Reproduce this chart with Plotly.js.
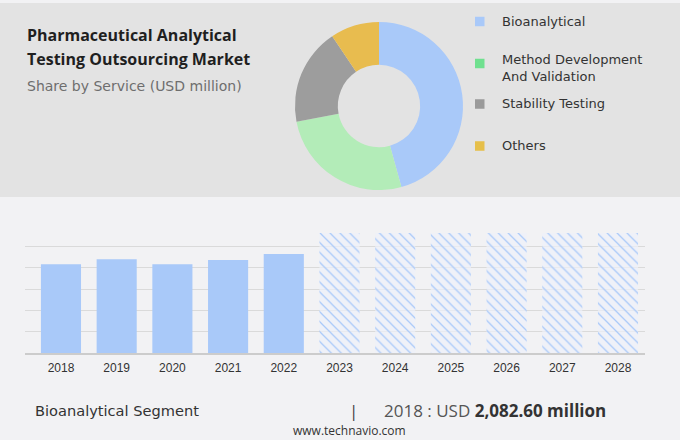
<!DOCTYPE html>
<html>
<head>
<meta charset="utf-8">
<script src="https://cdn.plot.ly/plotly-3.0.1.min.js"></script>
<style>
  html, body { margin: 0; padding: 0; background: #f2f2f4; }
  #chart { width: 680px; height: 440px; }
</style>
</head>
<body>
<div id="chart"></div>
<script>
// ---- data ----
const segments = ['Bioanalytical', 'Method Development And Validation', 'Stability Testing', 'Others'];
const shares = [45.7, 26.3, 18.6, 9.4];
const legendLabels = ['Bioanalytical', 'Method Development<br>And Validation', 'Stability Testing', 'Others'];

const years = ['2018', '2019', '2020', '2021', '2022', '2023', '2024', '2025', '2026', '2027', '2028'];
const actualYears = ['2018', '2019', '2020', '2021', '2022'];
const actualValues = [2082.6, 2196, 2079, 2180, 2320];
const forecastYears = ['2023', '2024', '2025', '2026', '2027', '2028'];
const forecastValues = [2810, 2810, 2810, 2810, 2810, 2810];

const titleLines = ['Pharmaceutical Analytical', 'Testing Outsourcing Market'];
const subtitle = 'Share by Service (USD million)';
const footerSegment = 'Bioanalytical Segment';
const footerYear = '2018';
const footerValue = '2,082.60 million';
const source = 'www.technavio.com';

// ---- helpers (pixel -> paper) ----
const W = 680, H = 440;
const px = x => x / W;
const py = y => 1 - y / H;

const pieColors = ['#a9c9f9', '#b3ecb8', '#9d9d9d', '#e8bc4f'];
const legendColors = ['#a9c9f9', '#6fe08f', '#9a9a9a', '#e6bf4a'];

const traces = [
  {
    type: 'pie',
    labels: segments,
    values: shares,
    hole: 0.49,
    sort: false,
    direction: 'clockwise',
    rotation: 0,
    textinfo: 'none',
    hoverinfo: 'label+percent',
    marker: { colors: pieColors, line: { width: 0 } },
    domain: { x: [px(295), px(463)], y: [py(190), py(22)] },
    showlegend: false
  },
  {
    type: 'bar',
    x: actualYears,
    y: actualValues,
    width: 0.72,
    marker: { color: '#a9c9f9', line: { width: 0 } },
    showlegend: false,
    hoverinfo: 'x+y'
  },
  {
    type: 'bar',
    x: forecastYears,
    y: forecastValues,
    width: 0.72,
    marker: {
      color: '#a9c9f9',
      line: { width: 0 },
      pattern: { shape: '\\', fillmode: 'replace', fgcolor: '#a9c9f9', bgcolor: 'rgba(238,242,250,0.7)', size: 7, solidity: 0.18 }
    },
    showlegend: false,
    hoverinfo: 'x'
  }
];

const annotations = [];
const shapes = [
  { type: 'rect', xref: 'paper', yref: 'paper', x0: 0, x1: 1, y0: py(197), y1: py(3),
    fillcolor: '#e3e3e3', line: { width: 0 }, layer: 'below' }
];

// Title + subtitle
annotations.push({ text: '<b>' + titleLines[0] + '</b>', x: px(25), y: py(35), font: { family: 'Open Sans', size: 16, color: '#1f1f1f' } });
annotations.push({ text: '<b>' + titleLines[1] + '</b>', x: px(25), y: py(59), font: { family: 'Open Sans', size: 16, color: '#1f1f1f' } });
annotations.push({ text: subtitle, x: px(25), y: py(86), font: { family: 'DejaVu Sans', size: 14, color: '#6e6e6e' } });

// Legend
const legendY = [21, 68, 104, 145.5];
const markerY = [21.5, 63.5, 104, 146];
legendLabels.forEach((t, i) => {
  annotations.push({ text: t, x: px(500), y: py(legendY[i]), align: 'left',
    font: { family: 'DejaVu Sans', size: 13, color: '#333333' } });
  shapes.push({ type: 'rect', xref: 'paper', yref: 'paper', x0: px(475), x1: px(484.5),
    y0: py(markerY[i] + 4.75), y1: py(markerY[i] - 4.75), fillcolor: legendColors[i], line: { width: 0 } });
});

// Footer
annotations.push({ text: footerSegment, x: px(33), y: py(410), font: { family: 'DejaVu Sans', size: 14.6, color: '#333333' } });
annotations.push({ text: '|', x: px(347), y: py(410), font: { family: 'Open Sans', size: 17, color: '#444444' } });
annotations.push({ text: footerYear + ' : USD <b><span style="color:#333333">' + footerValue + '</span></b>', x: px(382), y: py(410),
  font: { family: 'Open Sans', size: 17, color: '#555555' } });
annotations.push({ text: source, x: px(350), y: py(430), xanchor: 'center', font: { family: 'Open Sans', size: 12, color: '#333333' } });

annotations.forEach(a => {
  a.xref = 'paper'; a.yref = 'paper'; a.showarrow = false;
  if (!a.xanchor) a.xanchor = 'left';
  a.yanchor = 'middle';
});

const layout = {
  width: W, height: H,
  margin: { l: 0, r: 0, t: 0, b: 0 },
  paper_bgcolor: '#f2f2f4',
  plot_bgcolor: 'rgba(0,0,0,0)',
  showlegend: false,
  barmode: 'overlay',
  xaxis: {
    type: 'category',
    categoryorder: 'array',
    categoryarray: years,
    domain: [px(25), px(645)],
    range: [-0.646, 10.485],
    showgrid: false,
    showline: true, linecolor: '#cccccc', linewidth: 2,
    ticks: '',
    ticklabelstandoff: 3,
    tickfont: { family: 'Liberation Sans', size: 12, color: '#333333' },
    fixedrange: true
  },
  yaxis: {
    domain: [py(353), py(225)],
    range: [0, 3000],
    dtick: 500,
    showgrid: true, gridcolor: '#dadada', gridwidth: 1,
    zeroline: false,
    showticklabels: false,
    ticks: '',
    fixedrange: true
  },
  shapes: shapes,
  annotations: annotations
};

Plotly.newPlot('chart', traces, layout, { displayModeBar: false, staticPlot: true });
</script>
</body>
</html>
